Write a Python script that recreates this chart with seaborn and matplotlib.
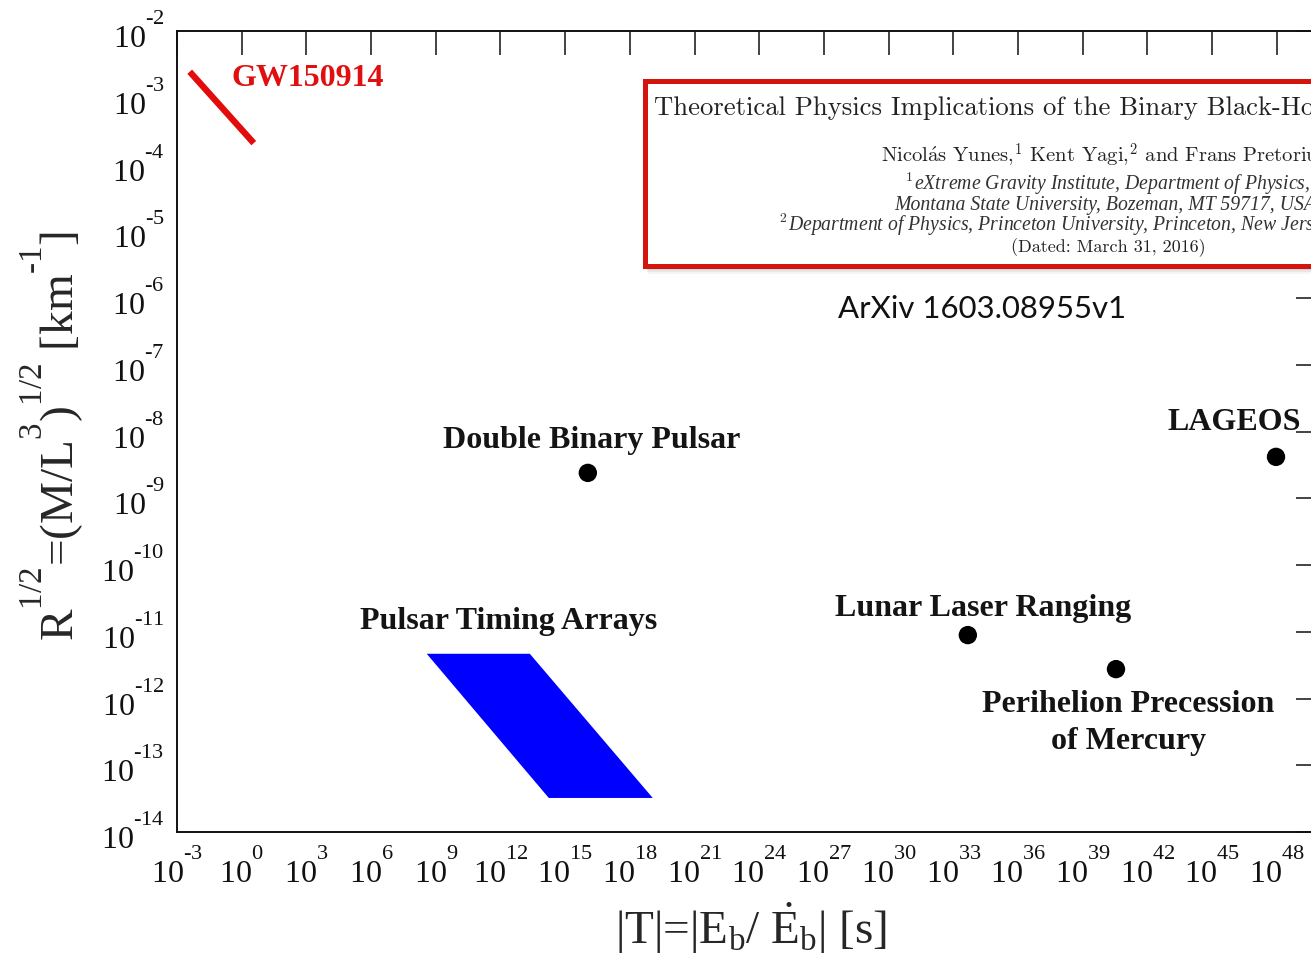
import numpy as np
import pandas as pd
import matplotlib
matplotlib.use("Agg")
import matplotlib.pyplot as plt
from matplotlib import _mathtext
import seaborn as sns
from matplotlib.patches import Rectangle
from matplotlib.ticker import FixedLocator, FuncFormatter, NullLocator

# Tests of gravity: characteristic time scale |T| [s] versus curvature R^{1/2} [1/km]
# (values are powers of ten)
probe_names = ["Double Binary Pulsar", "Lunar Laser Ranging",
               "Perihelion Precession\nof Mercury", "LAGEOS"]
probe_log_T = [16.05, 33.67, 40.54, 47.96]
probe_log_R = [-8.62, -11.05, -11.56, -8.38]

gw_name = "GW150914"
gw_log_T = [-2.41, 0.56]
gw_log_R = [-2.61, -3.68]

pta_name = "Pulsar Timing Arrays"
pta_log_T = [8.58, 13.36, 19.06, 14.24]
pta_log_R = [-11.33, -11.33, -13.49, -13.49]

x_tick_exps = list(range(-3, 49, 3))
y_tick_exps = list(range(-14, -1))

paper_title = "Theoretical Physics Implications of the Binary Black-Hole Merger GW150914"
paper_authors = r"Nicol$\acute{\mathrm{a}}$s Yunes,$^1$ Kent Yagi,$^2$ and Frans Pretorius$^3$"
paper_affil = [r"$^1$eXtreme Gravity Institute, Department of Physics,",
               "Montana State University, Bozeman, MT 59717, USA.",
               r"$^2$Department of Physics, Princeton University, Princeton, New Jersey 08544, USA."]
paper_date = "(Dated: March 31, 2016)"
arxiv_id = "ArXiv 1603.08955v1"

sns.set_style("white")
plt.rcParams.update({
    "font.family": ["Liberation Serif", "DejaVu Serif"],
    "mathtext.fontset": "custom",
    "mathtext.rm": "Liberation Serif",
    "mathtext.it": "Liberation Serif:italic",
    "mathtext.bf": "Liberation Serif:bold",
    "axes.edgecolor": "#111111",
    "axes.linewidth": 1.4,
    "text.color": "#111111",
    "xtick.color": "#111111",
    "ytick.color": "#111111",
})
# Exponents sit high above the base, as in gnuplot-style power labels
_mathtext.FontConstantsBase.sup1 = 1.5

W, H = 1311, 958
fig = plt.figure(figsize=(W / 100, H / 100), dpi=100)
fig.patch.set_facecolor("white")


def fx(px):
    return px / W


def fy(py):
    return 1 - py / H


ax = fig.add_axes([fx(177), fy(832), fx(1320) - fx(177), fy(31) - fy(832)])
ax.set_xscale("log")
ax.set_yscale("log")

probes = pd.DataFrame({"T": np.power(10.0, probe_log_T),
                       "R": np.power(10.0, probe_log_R),
                       "name": probe_names})
gw = pd.DataFrame({"T": np.power(10.0, gw_log_T), "R": np.power(10.0, gw_log_R)})
pta_T = np.power(10.0, pta_log_T)
pta_R = np.power(10.0, pta_log_R)

# Pulsar timing array band
ax.fill(pta_T, pta_R, color="#0000ff", lw=0, zorder=2)

# GW150914 segment
sns.lineplot(data=gw, x="T", y="R", ax=ax, color="#e30b0b", lw=4.6,
             estimator=None, sort=False, solid_capstyle="butt", zorder=3)

# Solar-system and pulsar tests
sns.scatterplot(data=probes, x="T", y="R", ax=ax, s=175, color="black",
                edgecolor="none", legend=False, zorder=4)

label_kw = dict(textcoords="offset points", fontsize=23, fontweight="bold",
                color="#141414", zorder=5)
probe_offsets = [(3, 18), (11, 14), (9, -15), (-30, 19)]
probe_va = ["baseline", "baseline", "top", "baseline"]
for (_, row), off, va in zip(probes.iterrows(), probe_offsets, probe_va):
    ax.annotate(row["name"], (row["T"], row["R"]), xytext=off, ha="center",
                va=va, multialignment="center", linespacing=1.35, **label_kw)

pta_anchor = (np.sqrt(pta_T[0] * pta_T[1]), pta_R[0])
ax.annotate(pta_name, pta_anchor, xytext=(22, 18), ha="center", va="baseline", **label_kw)

gw_kw = dict(label_kw, color="#e01010")
ax.annotate(gw_name, (gw["T"].iloc[0], gw["R"].iloc[0]), xytext=(30, -10),
            ha="left", va="baseline", **gw_kw)

ax.set_xlim(1e-3, 1e50)
ax.set_ylim(1e-14, 1e-2)


def pow10_label(v, pos):
    k = int(round(np.log10(v)))
    exp = str(k).replace("-", r"\text{-}")
    return r"$10^{%s}$" % exp


ax.xaxis.set_major_locator(FixedLocator(np.power(10.0, x_tick_exps)))
ax.yaxis.set_major_locator(FixedLocator(np.power(10.0, y_tick_exps)))
ax.xaxis.set_minor_locator(NullLocator())
ax.yaxis.set_minor_locator(NullLocator())
ax.xaxis.set_major_formatter(FuncFormatter(pow10_label))
ax.yaxis.set_major_formatter(FuncFormatter(pow10_label))
ax.tick_params(which="major", direction="in", length=17, width=1.1,
               top=True, right=True, labelsize=23)
ax.tick_params(axis="x", pad=12)
ax.tick_params(axis="y", pad=9)

ax.set_xlabel(r"|T|=|E$_\mathrm{b}$/ $\dot{\mathrm{E}}_\mathrm{b}$| [s]", fontsize=34)
ax.set_ylabel(r"R$^{1/2}$=(M/L$^{3}$)$^{1/2}$ [km$^{\text{-}1}$]", fontsize=34)
ax.xaxis.set_label_coords(0.502, -0.085)
ax.yaxis.set_label_coords(-0.08, 0.495)

# Paper header card
for k, a in enumerate([0.10, 0.08, 0.06, 0.04]):
    fig.add_artist(Rectangle((fx(645 + k), fy(268 + 2 * k)), fx(700), fy(81) - fy(268),
                             transform=fig.transFigure, facecolor="#000000",
                             edgecolor="none", alpha=a, zorder=9))
fig.add_artist(Rectangle((fx(645), fy(266)), fx(700), fy(81) - fy(266),
                         transform=fig.transFigure, facecolor="white",
                         edgecolor="#d3150d", lw=3.6, zorder=10))

card_cx = fx(1108)
cm_font = ["cmr10", "Liberation Serif"]
card_kw = dict(ha="center", va="baseline", math_fontfamily="cm", zorder=11)
fig.text(card_cx, fy(115), paper_title, fontsize=19.2, family=cm_font,
         color="#222222", **card_kw)
fig.text(card_cx, fy(163), paper_authors, fontsize=14.8, family=cm_font,
         color="#222222", **card_kw)
for yy, line in zip([190, 210, 231], paper_affil):
    fig.text(card_cx, fy(yy), line, fontsize=14.2, style="italic",
             color="#333333", **card_kw)
fig.text(card_cx, fy(252), paper_date, fontsize=13, family=cm_font,
         color="#222222", **card_kw)

fig.text(fx(982), fy(309), arxiv_id, ha="center", va="center", fontsize=22.4,
         family=["Lato", "DejaVu Sans"], color="#111111", zorder=11)

fig.savefig("out.png", dpi=100, facecolor="white")
